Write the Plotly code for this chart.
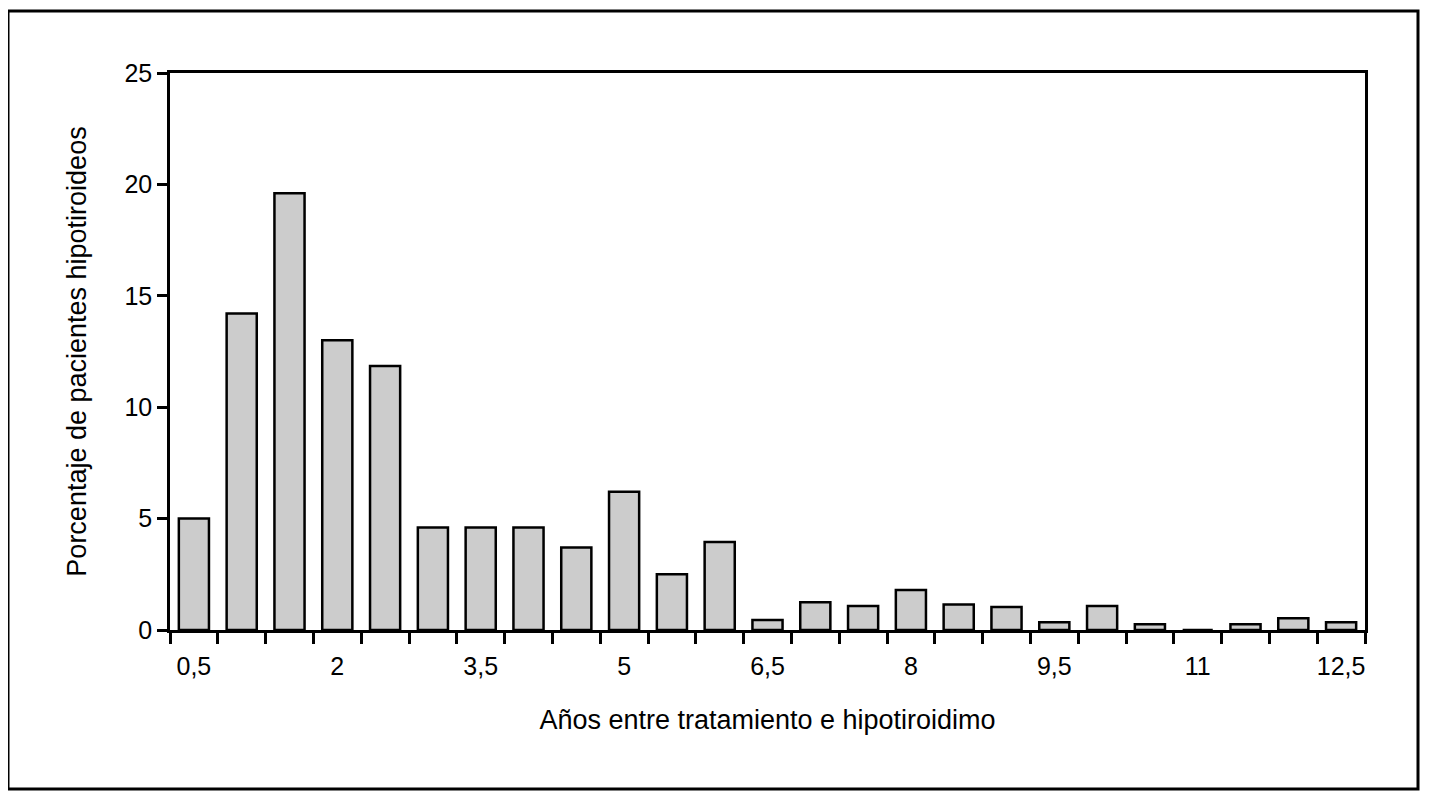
import plotly.graph_objects as go

# Data
years = [0.5, 1.0, 1.5, 2.0, 2.5, 3.0, 3.5, 4.0, 4.5, 5.0, 5.5, 6.0, 6.5,
         7.0, 7.5, 8.0, 8.5, 9.0, 9.5, 10.0, 10.5, 11.0, 11.5, 12.0, 12.5]
percent = [5.0, 14.2, 19.6, 13.0, 11.85, 4.6, 4.6, 4.6, 3.7, 6.2, 2.5, 3.95, 0.45,
           1.25, 1.08, 1.8, 1.15, 1.03, 0.35, 1.08, 0.26, 0.0, 0.26, 0.53, 0.35]
tick_values = [0.5, 2, 3.5, 5, 6.5, 8, 9.5, 11, 12.5]
tick_labels = ["0,5", "2", "3,5", "5", "6,5", "8", "9,5", "11", "12,5"]
y_ticks = [0, 5, 10, 15, 20, 25]

# page body has an 8px margin, so the figure is drawn 8px smaller and shifted
OFF = 8
W, H = 1430 - OFF, 804 - OFF
L, R, T, B = 170 - OFF, 65, 73 - OFF, 174
pw, ph = W - L - R, H - T - B

fig = go.Figure()
fig.add_trace(go.Bar(
    x=years, y=percent,
    marker=dict(color="#cccccc", line=dict(color="black", width=2.5)),
    showlegend=False,
))

family = "Liberation Sans, Arial, sans-serif"
tick_font = dict(family=family, size=25, color="black")
title_font = dict(family=family, size=27, color="black")

fig.update_layout(
    width=W, height=H,
    margin=dict(l=L, r=R, t=T, b=B, pad=0),
    paper_bgcolor="white", plot_bgcolor="white",
    bargap=0.37,
    font=tick_font,
    xaxis=dict(
        range=[0.25, 12.75], showgrid=False, zeroline=False,
        showline=True, linecolor="black", linewidth=2.5, mirror=True,
        tickmode="array", tickvals=tick_values, ticktext=tick_labels,
        ticks="", ticklabelstandoff=12,
        minor=dict(ticks="outside", tick0=0.25, dtick=0.5, ticklen=11,
                   tickwidth=2.5, tickcolor="black", showgrid=False),
        title=dict(text="Años entre tratamiento e hipotiroidimo", standoff=32, font=title_font),
        tickfont=tick_font,
    ),
    yaxis=dict(
        range=[0, 25], showgrid=False, zeroline=False,
        showline=True, linecolor="black", linewidth=2.5, mirror=True,
        tickmode="array", tickvals=y_ticks,
        ticks="outside", ticklen=10, tickwidth=2.5, tickcolor="black",
        title=dict(text="Porcentaje de pacientes hipotiroideos", standoff=30, font=title_font),
        tickfont=tick_font,
    ),
)

# outer frame (page coords 8..1418 x 11..789)
fig.add_shape(type="rect", xref="paper", yref="paper",
              x0=(8 - OFF - L) / pw, x1=(1418 - OFF - L) / pw,
              y0=(H - B - (789 - OFF)) / ph, y1=(H - B - (11 - OFF)) / ph,
              line=dict(color="black", width=3), fillcolor="rgba(0,0,0,0)")

fig.write_html("out.html")
